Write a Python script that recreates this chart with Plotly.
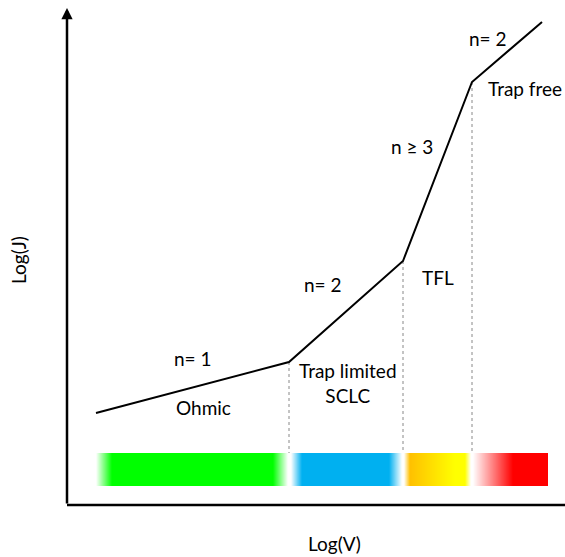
import numpy as np
import plotly.graph_objects as go

W, H = 565, 557

# Curve: knee points (Log V, Log J) in chart units
log_v = [96, 289, 403, 472, 542]
log_j = [144, 195, 296, 475, 535]

# Region boundaries (dotted lines) at knee points
knee_v = [289, 403, 472]
knee_j = [195, 296, 475]

# Colour bar stops: position, colour
bar_pos = [96, 112, 273, 288, 291, 302, 389, 402, 404, 410, 455, 465, 471, 473, 513, 548]
bar_col = ["#ffffff", "#00ff00", "#00ff00", "#ffffff", "#ffffff", "#00b0f0", "#00b0f0", "#ffffff",
           "#ffffff", "#ffc000", "#ffff00", "#ffff00", "#ffffff", "#ffffff", "#ff0000", "#ff0000"]
bar_bottom, bar_top = 71, 104

labels = ["n= 1", "Ohmic", "n= 2", "Trap limited<br>SCLC", "TFL", "n ≥ 3", "n= 2", "Trap free"]
label_x = [193, 203, 323, 348, 438, 412, 488, 525]
label_y = [199, 150, 273, 174, 280, 411, 519, 469]

FONT = "Lato"
FS = 19

fig = go.Figure()

# colour bar as heatmap
x0, x1 = bar_pos[0], bar_pos[-1]
edges = np.arange(x0, x1 + 1, 1.0)
centers = (edges[:-1] + edges[1:]) / 2
z = [list((centers - x0) / (x1 - x0))]
cscale = [[(p - x0) / (x1 - x0), c] for p, c in zip(bar_pos, bar_col)]
fig.add_trace(go.Heatmap(x=edges, y=[bar_bottom, bar_top], z=z, colorscale=cscale,
                         zmin=0, zmax=1, showscale=False, hoverinfo="skip"))

# dotted lines
for kv, kj in zip(knee_v, knee_j):
    fig.add_trace(go.Scatter(x=[kv, kv], y=[kj, bar_top], mode="lines",
                             line=dict(color="#888888", width=1, dash="dot"),
                             showlegend=False, hoverinfo="skip"))

# curve
fig.add_trace(go.Scatter(x=log_v, y=log_j, mode="lines",
                         line=dict(color="black", width=2), showlegend=False))

# axes
fig.add_shape(type="line", x0=67, x1=565, y0=52, y1=52, line=dict(color="black", width=2.5))
fig.add_annotation(x=67, y=549, ax=67, ay=52, xref="x", yref="y", axref="x", ayref="y",
                   showarrow=True, arrowhead=2, arrowsize=0.9, arrowwidth=2.5, arrowcolor="black", text="")

for t, x, y in zip(labels, label_x, label_y):
    fig.add_annotation(x=x, y=y, text=t, showarrow=False, font=dict(family=FONT, size=FS, color="black"))

fig.add_annotation(x=18, y=297, text="Log(J)", textangle=-90, showarrow=False,
                   font=dict(family=FONT, size=FS, color="black"))
fig.add_annotation(x=334, y=14, text="Log(V)", showarrow=False,
                   font=dict(family=FONT, size=FS, color="black"))

fig.update_layout(width=W, height=H, margin=dict(l=0, r=0, t=0, b=0),
                  plot_bgcolor="white", paper_bgcolor="white", showlegend=False,
                  xaxis=dict(range=[0, W], visible=False, fixedrange=True),
                  yaxis=dict(range=[0, H], visible=False, fixedrange=True))

fig.write_html("out.html")
